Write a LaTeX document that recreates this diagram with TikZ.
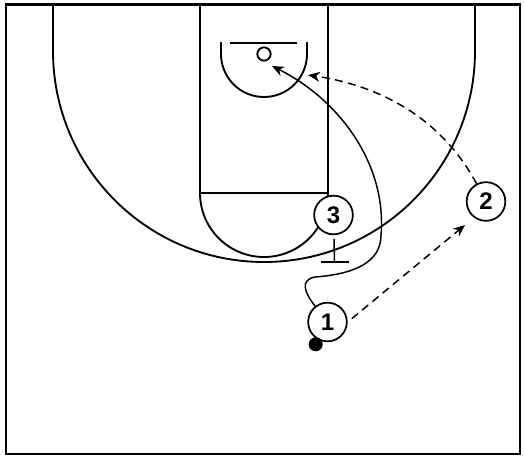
\documentclass[tikz,border=0pt]{standalone}
\usepackage{fontspec}
\setmainfont{Liberation Sans}
\usetikzlibrary{arrows.meta}

\begin{document}
\begin{tikzpicture}[x=0.75pt,y=0.75pt,yscale=-1,xscale=1,
  court/.style={line width=1.4pt},
  player/.style={circle,draw,line width=1.3pt,fill=white,minimum size=29pt,inner sep=0pt,font=\fontsize{18}{18}\selectfont\bfseries},
  ball/.style={circle,fill=black,minimum size=10.5pt,inner sep=0pt},
  rim/.style={circle,draw,line width=1.4pt,minimum size=10pt,inner sep=0pt},
  dribble/.style={line width=1.1pt,-{Stealth[length=9pt,width=7.5pt,inset=3pt]}},
  pass/.style={line width=1.1pt,dash pattern=on 6pt off 4pt,-{Stealth[length=9pt,width=7.5pt,inset=3pt]}}]
\useasboundingbox (0,0) rectangle (525,458);

%Shape: Rectangle
\draw [line width=1.9pt] (6,4.5) -- (520,4.5) -- (520,454) -- (6,454) -- cycle ;
%Three point line
\draw [court] (53,4.5) -- (53,51) arc [start angle=180,end angle=0,radius=211] -- (475,4.5) ;
%Lane
\draw [court] (200,4.5) -- (200,193) -- (328,193) -- (328,4.5) ;
%Free throw circle
\draw [court] (200,193) arc [start angle=180,end angle=0,radius=64] ;
%Restricted area
\draw [court] (221,42) -- (221,54) arc [start angle=180,end angle=0,radius=43] -- (307,42) ;
%Backboard
\draw [court] (230,43) -- (297,43) ;
% Rim
\node [rim] (rim) at (264,54) {};

% Players
\node [player] (p3) at (333.5,215) {3};
\node [player] (p2) at (486,201.5) {2};
\node [player] (p1) at (327.5,322) {1};
\node [ball] (ball) at (315.7,344.3) {};

\coordinate (screen) at (334.5,262);
\coordinate (drive) at (272,66);
\coordinate (cut) at (308,75);
\coordinate (pass) at (465,225);

%Screen
\draw [line width=1.1pt,shorten <=3pt] (p3) -- (screen) ;
\draw [line width=1.1pt] ([xshift=-10.5pt]screen) -- ([xshift=10.5pt]screen) ;
%Dribble
\draw [dribble] (p1) .. controls (304,292) and (300,280) .. (315,277) .. controls (355,274) and (381,262) .. (381,235) .. controls (387,165) and (340,100) .. (drive) ;
%Passes
\draw [pass] (p2) .. controls (448,130) and (395,88) .. (cut) ;
\draw [pass,shorten <=4pt] (p1.east) -- (pass) ;

\end{tikzpicture}
\end{document}
